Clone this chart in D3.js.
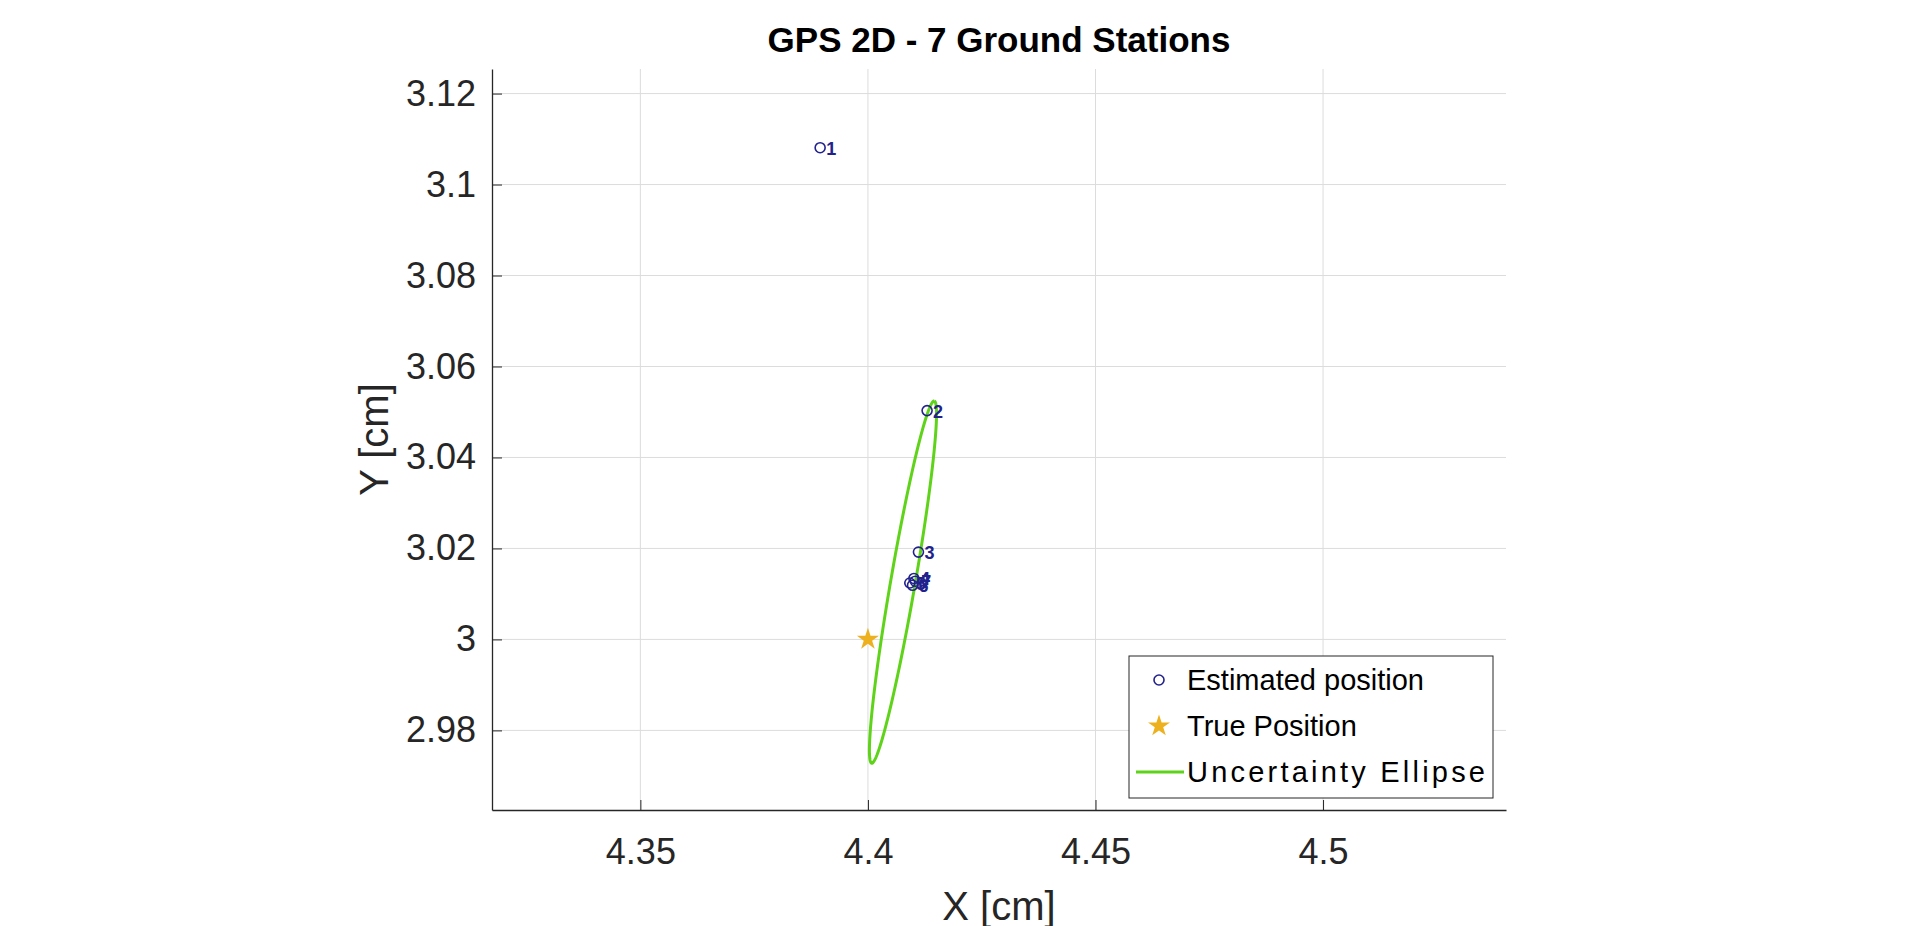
<!DOCTYPE html>
<html><head><meta charset="utf-8">
<script src="https://cdn.jsdelivr.net/npm/d3@7"></script>
<style>body{margin:0;background:#fff;font-family:"Liberation Sans",Arial,sans-serif}</style>
</head><body><svg id="c" width="1920" height="926"></svg>
<script>
var estX = [4.3895, 4.4130, 4.4111, 4.4101, 4.4092, 4.4098, 4.4104];
var estY = [3.1081, 3.0503, 3.0192, 3.0134, 3.0124, 3.0119, 3.0128];
var labels = ["1","2","3","4","5","6","7"];
var trueX = [4.4], trueY = [3.0];
// ellipse: centre x, centre y, semi-major, semi-minor, angle (deg)
var ellParams = [4.4077, 3.0126, 0.0404, 0.0027, 80.2];
var xTicks = [4.35, 4.4, 4.45, 4.5];
var yTicks = [2.98, 3, 3.02, 3.04, 3.06, 3.08, 3.1, 3.12];

var svg = d3.select('#c');
var L=492, R=1506, T=69, B=810;
var x = d3.scaleLinear().domain([4.3174, 4.5402]).range([L, R]);
var y = d3.scaleLinear().domain([2.9625, 3.1254]).range([B, T]);
var navy = '#22228c', green = '#5fd31a', gold = '#edb120';

// grid
svg.append('g').selectAll('line').data(xTicks).enter().append('line')
	.attr('x1', d=>x(d)).attr('x2', d=>x(d)).attr('y1', T).attr('y2', B)
	.attr('stroke', '#dcdcdc');
svg.append('g').selectAll('line').data(yTicks).enter().append('line')
	.attr('x1', L).attr('x2', R).attr('y1', d=>y(d)).attr('y2', d=>y(d))
	.attr('stroke', '#dcdcdc');

var xa = svg.append('g').attr('transform', 'translate(0,' + B + ')')
	.call(d3.axisBottom(x).tickValues(xTicks).tickSizeInner(-10).tickSizeOuter(0).tickPadding(28).tickFormat(d3.format('')));
var ya = svg.append('g').attr('transform', 'translate(' + L + ',0)')
	.call(d3.axisLeft(y).tickValues(yTicks).tickSizeInner(-10).tickSizeOuter(0).tickPadding(16).tickFormat(d3.format('')));
[xa, ya].forEach(function(a){
	a.select('.domain').attr('stroke', '#262626').attr('stroke-width', 1.3);
	a.selectAll('.tick line').attr('stroke', '#262626');
	a.selectAll('text').attr('font-size', 36).attr('fill', '#262626').attr('font-family', '"Liberation Sans",Arial');
});

// ellipse
var e = ellParams, th = e[4]*Math.PI/180;
var angles = d3.range(0, 361, 2);
var ellLine = d3.line()
	.x(t => x(e[0] + e[2]*Math.cos(t*Math.PI/180)*Math.cos(th) - e[3]*Math.sin(t*Math.PI/180)*Math.sin(th)))
	.y(t => y(e[1] + e[2]*Math.cos(t*Math.PI/180)*Math.sin(th) + e[3]*Math.sin(t*Math.PI/180)*Math.cos(th)));
svg.append('path').attr('d', ellLine(angles)).attr('fill', 'none').attr('stroke', green).attr('stroke-width', 3);

// estimated points
var pts = svg.append('g');
estX.forEach(function(v, i){
	pts.append('circle').attr('cx', x(v)).attr('cy', y(estY[i])).attr('r', 5)
		.attr('fill', 'none').attr('stroke', navy).attr('stroke-width', 1.6);
	pts.append('text').attr('x', x(v) + 6).attr('y', y(estY[i]) + 7).text(labels[i])
		.attr('font-size', 18).attr('font-weight', 'bold').attr('fill', navy);
});

var star = d3.symbol().type(d3.symbolStar).size(150);
svg.append('path').attr('d', star()).attr('transform', 'translate(' + x(trueX[0]) + ',' + y(trueY[0]) + ')').attr('fill', gold);

// title + labels
svg.append('text').attr('x', (L+R)/2).attr('y', 52).attr('text-anchor', 'middle')
	.attr('font-size', 35).attr('font-weight', 'bold').text('GPS 2D - 7 Ground Stations');
svg.append('text').attr('x', (L+R)/2).attr('y', 920).attr('text-anchor', 'middle')
	.attr('font-size', 40).attr('fill', '#262626').text('X [cm]');
svg.append('text').attr('transform', 'translate(388,' + (T+B)/2 + ') rotate(-90)').attr('text-anchor', 'middle')
	.attr('font-size', 40).attr('fill', '#262626').text('Y [cm]');

// legend
var lg = svg.append('g').attr('transform', 'translate(1129,656)');
lg.append('rect').attr('width', 364).attr('height', 142).attr('fill', '#fff').attr('stroke', '#262626');
var items = ['Estimated position', 'True Position', 'Uncertainty Ellipse'];
items.forEach(function(t, i){
	var cy = 24 + i*46;
	if (i == 0) lg.append('circle').attr('cx', 30).attr('cy', cy).attr('r', 5).attr('fill', 'none').attr('stroke', navy).attr('stroke-width', 1.6);
	if (i == 1) lg.append('path').attr('d', star()).attr('transform', 'translate(30,' + cy + ')').attr('fill', gold);
	if (i == 2) lg.append('line').attr('x1', 7).attr('x2', 55).attr('y1', cy).attr('y2', cy).attr('stroke', green).attr('stroke-width', 3);
	lg.append('text').attr('x', 58).attr('y', cy + 10).attr('font-size', 29).attr('fill', '#000')
		.attr('textLength', i == 2 ? 298 : null).text(t);
});
</script></body></html>
